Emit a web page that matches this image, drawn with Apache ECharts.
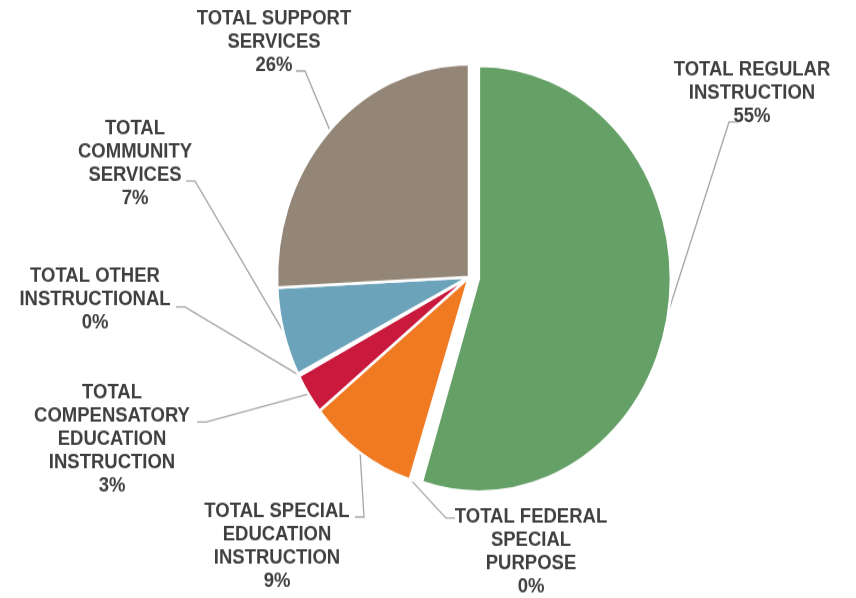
<!DOCTYPE html>
<html>
<head>
<meta charset="utf-8">
<script src="https://cdn.jsdelivr.net/npm/echarts@6/dist/echarts.min.js"></script>
<style>
  html, body { margin: 0; padding: 0; background: #fff; overflow: hidden; }
  #wrap { width: 856px; height: 598px; overflow: hidden; }
  /* the chart is drawn on a shorter canvas and stretched vertically */
  #chart { width: 856px; height: 539px; transform: scaleY(1.1095); transform-origin: 0 0; }
</style>
</head>
<body>
<div id="wrap"><div id="chart"></div></div>
<script>
// Expenditure categories, clockwise from 12 o'clock
const categories = [
  'TOTAL REGULAR\nINSTRUCTION',
  'TOTAL FEDERAL\nSPECIAL\nPURPOSE',
  'TOTAL SPECIAL\nEDUCATION\nINSTRUCTION',
  'TOTAL\nCOMPENSATORY\nEDUCATION\nINSTRUCTION',
  'TOTAL OTHER\nINSTRUCTIONAL',
  'TOTAL\nCOMMUNITY\nSERVICES',
  'TOTAL SUPPORT\nSERVICES'
];
// Share of total spending (percent)
const shares = [54.8, 0.2, 9.2, 3.1, 0.2, 6.7, 25.8];

const sliceColors = ['#65A066', '#8FA8C8', '#F07A22', '#C9193D', '#7E62A3', '#6BA3BB', '#938676'];

const STRETCH = 598 / 539;
const CENTER = [469, 277 / STRETCH];
const RADIUS = 192;
const EXPLODE = 10;      // pull-out distance of the first slice
const PULLED = 0;        // index of the pulled-out slice

// Label block centres and leader-line end points (page pixels)
const labelSpots = [
  { x: 752, y: 93,  end: [738, 122] },
  { x: 531, y: 552, end: [455, 518] },
  { x: 277, y: 546, end: [355, 517] },
  { x: 112, y: 439, end: [197, 422] },
  { x: 95,  y: 300, end: [176, 307] },
  { x: 135, y: 163, end: [186, 181] },
  { x: 274, y: 42,  end: [296, 71] }
];

// direction of the pulled-out slice: middle of its arc, measured clockwise from the top
const total = shares.reduce(function (a, b) { return a + b; }, 0);
let before = 0;
for (let i = 0; i < PULLED; i++) before += shares[i];
const midAngle = (before + shares[PULLED] / 2) / total * 2 * Math.PI;
const shift = [EXPLODE * Math.sin(midAngle), -EXPLODE * Math.cos(midAngle)];

const baseSeries = {
  type: 'pie',
  radius: RADIUS,
  startAngle: 90,
  clockwise: true,
  percentPrecision: 0,
  avoidLabelOverlap: false,
  emphasis: { disabled: true },
  silent: true
};

const chart = echarts.init(document.getElementById('chart'));

chart.setOption({
  animation: false,
  backgroundColor: '#ffffff',
  series: [
    Object.assign({}, baseSeries, {
      center: CENTER,
      itemStyle: { borderColor: '#ffffff', borderWidth: 2.5 },
      label: {
        show: true,
        formatter: '{b}\n{d}%',
        fontFamily: 'Liberation Sans, Arial, sans-serif',
        fontSize: 18.5,
        fontWeight: 'bold',
        lineHeight: 21,
        color: '#404040',
        align: 'center'
      },
      labelLine: {
        show: true,
        lineStyle: { color: '#A6A6A6', width: 1.3 }
      },
      labelLayout: function (params) {
        const s = labelSpots[params.dataIndex];
        const ex = s.end[0], ey = s.end[1] / STRETCH;
        const pts = params.labelLinePoints;
        let start = pts ? pts[0].slice() : [ex, ey];
        if (params.dataIndex === PULLED) {
          start = [start[0] + shift[0], start[1] + shift[1]];
        }
        const elbowX = start[0] < ex ? ex - 9 : ex + 9;
        return {
          x: s.x,
          y: s.y / STRETCH,
          align: 'center',
          verticalAlign: 'middle',
          labelLinePoints: [start, [elbowX, ey], [ex, ey]]
        };
      },
      data: categories.map(function (name, i) {
        return {
          name: name,
          value: shares[i],
          itemStyle: i === PULLED
            ? { color: 'rgba(0,0,0,0)', borderColor: 'rgba(0,0,0,0)' }
            : { color: sliceColors[i] }
        };
      })
    }),
    // the pulled-out slice, drawn on its own shifted centre
    Object.assign({}, baseSeries, {
      center: [CENTER[0] + shift[0], CENTER[1] + shift[1]],
      itemStyle: { borderColor: '#ffffff', borderWidth: 2.5 },
      label: { show: false },
      labelLine: { show: false },
      data: categories.map(function (name, i) {
        return {
          name: name,
          value: shares[i],
          itemStyle: i === PULLED
            ? { color: sliceColors[i] }
            : { color: 'rgba(0,0,0,0)', borderColor: 'rgba(0,0,0,0)' }
        };
      })
    })
  ]
});
</script>
</body>
</html>
